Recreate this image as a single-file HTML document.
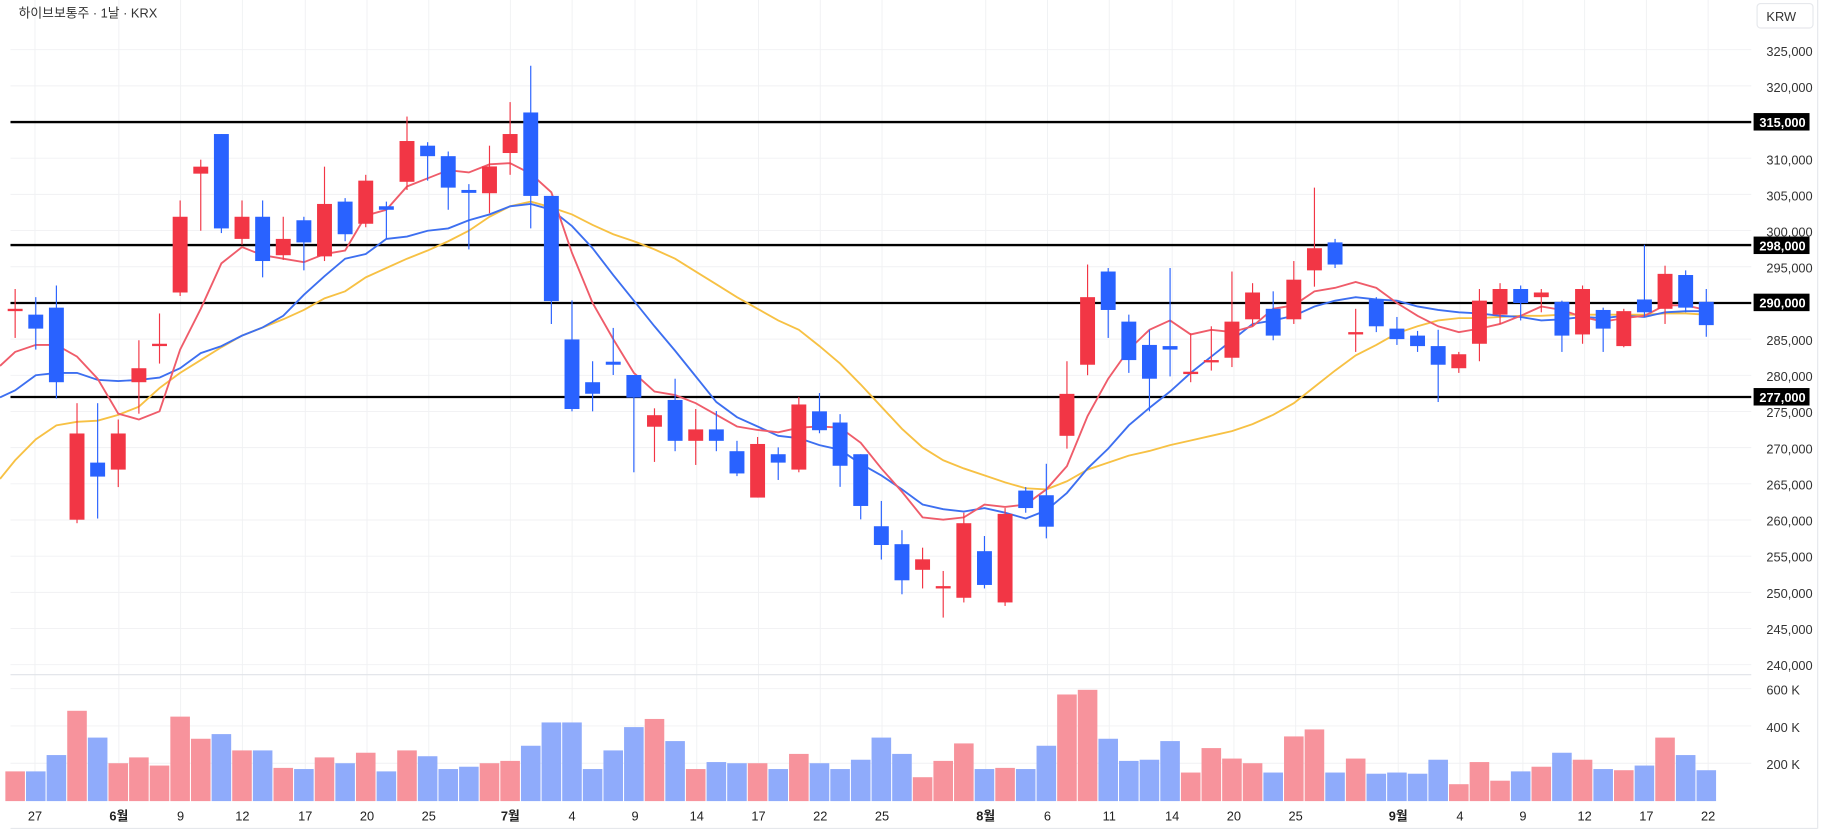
<!DOCTYPE html>
<html><head><meta charset="utf-8"><style>
html,body{margin:0;padding:0;background:#fff;width:1827px;height:839px;overflow:hidden}
svg{display:block}
text{font-family:"Liberation Sans","Noto Sans CJK KR",sans-serif}
</style></head><body>
<svg id="s" width="1827" height="839" viewBox="0 0 1568 720" xmlns="http://www.w3.org/2000/svg">
<rect x="0" y="0" width="1568" height="720" fill="#fff"/>
<g id="grid" stroke="#f0f1f3" stroke-width="0.8"></g>
<line x1="9" y1="579" x2="1503" y2="579" stroke="#e0e3e8" stroke-width="1"/>
<line x1="9" y1="711" x2="1560" y2="711" stroke="#e6e8ec" stroke-width="1"/>
<line x1="1560" y1="0" x2="1560" y2="711" stroke="#e6e8ec" stroke-width="1"/>
<g id="vol"></g>
<g id="hl" stroke="#000" stroke-width="2">
<line x1="9" y1="104.7" x2="1503" y2="104.7"/>
<line x1="9" y1="210.3" x2="1503" y2="210.3"/>
<line x1="9" y1="260" x2="1503" y2="260"/>
<line x1="9" y1="340.7" x2="1503" y2="340.7"/>
</g>
<g id="ma" fill="none" stroke-width="1.6"></g>
<g id="cd"></g>
<text x="16" y="15" font-size="11" fill="#333">하이브보통주 · 1날 · KRX</text>
<rect x="1508" y="3" width="48" height="21" rx="3" fill="#fff" stroke="#e6e8ec"/>
<text x="1516" y="18" font-size="11" fill="#333">KRW</text>
<g font-size="11" fill="#222" text-anchor="middle">
<text x="30" y="704">27</text><text x="102" y="704" font-weight="bold">6월</text><text x="155" y="704">9</text>
<text x="208" y="704">12</text><text x="262" y="704">17</text><text x="315" y="704">20</text><text x="368" y="704">25</text>
<text x="438" y="704" font-weight="bold">7월</text><text x="491" y="704">4</text><text x="545" y="704">9</text>
<text x="598" y="704">14</text><text x="651" y="704">17</text><text x="704" y="704">22</text><text x="757" y="704">25</text>
<text x="846" y="704" font-weight="bold">8월</text><text x="899" y="704">6</text><text x="952" y="704">11</text>
<text x="1006" y="704">14</text><text x="1059" y="704">20</text><text x="1112" y="704">25</text>
<text x="1200" y="704" font-weight="bold">9월</text><text x="1253" y="704">4</text><text x="1307" y="704">9</text>
<text x="1360" y="704">12</text><text x="1413" y="704">17</text><text x="1466" y="704">22</text>
</g>
<g font-size="11" fill="#333">
<text x="1516" y="48">325,000</text><text x="1516" y="79">320,000</text>
<text x="1516" y="141">310,000</text><text x="1516" y="172">305,000</text><text x="1516" y="203">300,000</text>
<text x="1516" y="234">295,000</text><text x="1516" y="296">285,000</text><text x="1516" y="327">280,000</text>
<text x="1516" y="358">275,000</text><text x="1516" y="389">270,000</text><text x="1516" y="420">265,000</text>
<text x="1516" y="451">260,000</text><text x="1516" y="482">255,000</text><text x="1516" y="513">250,000</text>
<text x="1516" y="544">245,000</text><text x="1516" y="575">240,000</text>
<text x="1516" y="596">600 K</text><text x="1516" y="628">400 K</text><text x="1516" y="660">200 K</text>
</g>
<g font-size="11" fill="#fff" font-weight="bold">
<rect x="1505" y="97" width="48" height="15" fill="#000"/><text x="1510" y="109">315,000</text>
<rect x="1505" y="203" width="48" height="15" fill="#000"/><text x="1510" y="215">298,000</text>
<rect x="1505" y="252" width="48" height="15" fill="#000"/><text x="1510" y="264">290,000</text>
<rect x="1505" y="333" width="48" height="15" fill="#000"/><text x="1510" y="345">277,000</text>
</g>
</svg>
<script>
const NS="http://www.w3.org/2000/svg";
function el(p,t,a){const e=document.createElementNS(NS,t);for(const k in a)e.setAttribute(k,a[k]);p.appendChild(e);return e;}
const g=document.getElementById('grid');
for(let p=240;p<=325;p+=5){const y=104.7+(315-p)*6.21;el(g,'line',{x1:9,y1:y,x2:1503,y2:y});}
[591,623,655].forEach(y=>el(g,'line',{x1:9,y1:y,x2:1503,y2:y}));
[30,102,155,208,262,315,368,438,491,545,598,651,704,757,846,899,952,1006,1059,1112,1200,1253,1307,1360,1413,1466].forEach(x=>el(g,'line',{x1:x,y1:0,x2:x,y2:687}));
const C=[
[265,267,248,290,'r'],[270,282,255,300,'b'],[264,328,245,342,'b'],[372,446,346,449,'r'],[397,409,346,445,'b'],
[372,403,360,418,'r'],[316,328,292,355,'r'],[295,297,269,312,'r'],[186,251,172,254,'r'],[143,149,137,198,'r'],
[115,196,115,200,'b'],[186,205,172,210,'r'],[186,224,172,238,'b'],[205,219,186,223,'r'],[189,208,186,232,'b'],
[175,220,143,224,'r'],[173,201,170,207,'b'],[155,192,150,195,'r'],[177,180,173,205,'b'],[121,156,100,163,'r'],
[125,134,122,155,'b'],[134,161,130,180,'b'],[163,165.5,158,214,'b'],[142.8,165.8,125,183,'r'],[115,131.3,87.6,150,'r'],
[96.5,168.1,56.4,196,'b'],[168.1,258.4,168.1,278,'b'],[291.3,351,257.8,353,'b'],[328,337.9,310,353,'b'],[310.4,313,281.4,321.8,'b'],
[321.8,341.2,321.8,405.3,'b'],[356.3,366.2,350.4,396.4,'r'],[343.2,378.3,325,387.2,'b'],[368.5,378.3,351,399,'r'],[368.5,378.3,352.7,387.2,'b'],
[387.2,406.3,378.3,408.6,'b'],[381,427,375,427,'r'],[389.8,397,383.9,411.9,'b'],[347.1,403,340.6,405.3,'r'],[353,369.2,337.3,371.8,'b'],
[362.6,399.7,355.4,417.8,'b'],[389.8,434.2,389.8,445.7,'b'],[451.6,467.7,429.9,480.2,'b'],[467,498,455,510,'b'],[480,489,470,505,'r'],
[503,505,490,530,'r'],[449,513,440,517,'r'],[473,502,460,505,'b'],[441,517,436,520,'r'],[421,436,418,440,'b'],
[425,452,398,462,'b'],[338,374,310,385,'r'],[255,313,227,322,'r'],[233,266,230,290,'b'],[276,309,270,320,'b'],
[296,325,283,353,'b'],[297,300,230,323,'b'],[319,321,286,328,'r'],[309,311,280,318,'r'],[276,307,233,315,'r'],
[251,274,243,280,'r'],[265,288,250,292,'b'],[240,274,224,278,'r'],[213,232,161,246,'r'],[208,227,205,230,'b'],
[285,287,265,302,'r'],[257,280,255,285,'b'],[282,291,272,296,'b'],[288,297,284,302,'b'],[297,313,283,345,'b'],
[304,316,302,320,'r'],[258,295,248,310,'r'],[248,270,243,278,'r'],[248,260,245,275,'b'],[251,255,248,268,'r'],
[259,288,258,302,'b'],[248,287,245,295,'r'],[266,282,264,302,'b'],[267,297,265,298,'r'],[257,268,210,272,'b'],
[235,265,228,278,'r'],[236,264,232,268,'b'],[259,279,248,289,'b']];
const V=[662,662,648,610,633,655,650,657,615,634,630,644,644,659,660,650,655,646,662,644,649,660,658,655,653,640,620,620,660,644,624,617,636,660,654,655,655,660,647,655,660,652,633,647,667,653,638,660,659,660,640,596,592,634,653,652,636,663,642,651,655,663,632,626,663,651,664,663,664,652,673,654,670,662,658,646,652,660,661,657,633,648,661];
const cd=document.getElementById('cd'),vg=document.getElementById('vol');
C.forEach((c,i)=>{const x=13+i*17.7;const col=c[4]=='r'?'#f23645':'#2962ff';
 el(vg,'rect',{x:x-8.4,y:V[i],width:16.8,height:687.5-V[i],fill:c[4]=='r'?'#f7939c':'#8fabfb'});
 el(cd,'line',{x1:x,y1:c[2],x2:x,y2:c[3],stroke:col,'stroke-width':1});
 el(cd,'rect',{x:x-6.4,y:c[0],width:12.8,height:Math.max(2,c[1]-c[0]),fill:col});});
const xs=[0];for(let i=0;i<83;i++)xs.push(13+i*17.7);
const R=[314,302,296,296,306,325,355,360,353,300,265,226,212,219,222,225,218,215,185,180,160,153,146,148,141,140,149,165,217,260,291,320,336,339,346,356,366,369,371,367,366,367,380,402,422,444,446,444,433,435,433,420,400,357,325,300,283,275,287,283,285,280,265,262,250,247,242,247,260,271,280,285,282,278,271,263,266,272,276,273,271,262,262,266];
const B=[341,335,322,320,320,326,327,326,324,316,303,297,288,281,271,253,237,222,218,205,203,198,196,189,184,177,175,180,194,213,236,258,280,301,323,345,358,366,374,376,382,386,398,408,420,433,437,439,436,440,445,438,423,402,385,365,350,336,320,306,292,278,275,271,263,258,255,257,258,263,266,268,269,271,272,275,274,272,273,271,272,268,267,267];
const Y=[411,395,377,365,362,361,356,349,333,320,309,298,288,281,274,266,256,250,238,230,222,215,207,198,186,177,173,178,184,193,201,207,214,222,233,244,255,265,275,283,297,312,330,349,368,384,395,402,408,414,419,420,413,403,397,391,387,382,378,374,370,364,356,346,332,318,305,296,286,280,275,273,273,272,271,271,270,270,270,270,270,269,269,270];
const ma=document.getElementById('ma');
[[Y,'#f7c144'],[B,'#3d6ff0'],[R,'#ef5c6a']].forEach(([a,c])=>el(ma,'polyline',{points:a.map((y,i)=>xs[i]+','+y).join(' '),stroke:c}));
</script>
</body></html>
